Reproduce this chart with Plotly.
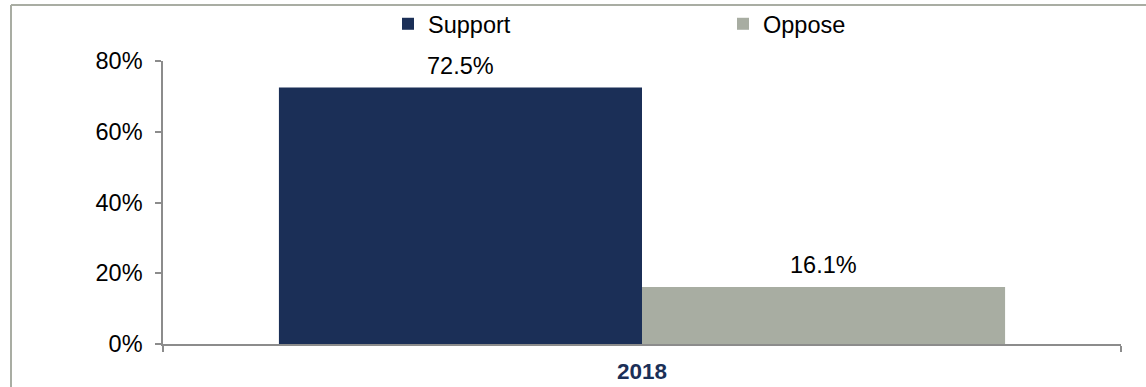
import plotly.graph_objects as go

categories = ["2018"]
series_names = ["Support", "Oppose"]
support_values = [72.5]
oppose_values = [16.1]
y_tick_values = [0, 20, 40, 60, 80]
y_tick_labels = ["0%", "20%", "40%", "60%", "80%"]

NAVY = "#1B2F57"
GRAY = "#A8ADA2"
AXIS = "#8C8C8C"
BORDER = "#A9ADA3"
FONT = "Liberation Sans, Arial, sans-serif"
FS = 23.5

W, H = 1146, 387
ML, MR, MT, MB = 163, 25, 61, 43
BARGAP = 0.242
plot_w = W - ML - MR
plot_h = H - MT - MB
bar_w = plot_w * (1 - BARGAP) / 2

fig = go.Figure()
fig.add_trace(go.Bar(name=series_names[0], x=categories, y=support_values,
                     marker=dict(color=NAVY, line=dict(width=0))))
fig.add_trace(go.Bar(name=series_names[1], x=categories, y=oppose_values,
                     marker=dict(color=GRAY, line=dict(width=0))))

annotations = []
for vals, sign in [(support_values, -1), (oppose_values, 1)]:
    for i, v in enumerate(vals):
        annotations.append(dict(x=i, y=v, xref="x", yref="y", text=f"{v:.1f}%",
                                showarrow=False, xshift=sign * bar_w / 2, yshift=22,
                                yanchor="middle",
                                font=dict(family=FONT, size=FS, color="#000000")))

# frame: only the top and left edges fall inside the picture
fx0 = (11 - ML) / plot_w
fx1 = (W - ML) / plot_w
fy_top = 1 + (MT - 5) / plot_h
fy_bot = -MB / plot_h
frame = [
    dict(type="line", xref="paper", yref="paper", x0=fx0, x1=fx1, y0=fy_top, y1=fy_top,
         line=dict(color=BORDER, width=2), layer="below"),
    dict(type="line", xref="paper", yref="paper", x0=fx0, x1=fx0, y0=fy_bot, y1=fy_top,
         line=dict(color=BORDER, width=2), layer="below"),
]

fig.update_layout(
    width=W, height=H,
    margin=dict(l=ML, r=MR, t=MT, b=MB, pad=0, autoexpand=False),
    paper_bgcolor="white", plot_bgcolor="white",
    barmode="group", bargap=BARGAP, bargroupgap=0,
    font=dict(family=FONT, size=FS, color="#000000"),
    showlegend=True,
    legend=dict(orientation="h", x=(388 - ML) / plot_w, xanchor="left",
                y=1 + (MT - 24) / plot_h, yanchor="middle",
                entrywidth=290, entrywidthmode="pixels",
                bgcolor="rgba(0,0,0,0)",
                font=dict(family=FONT, size=FS, color="#000000"),
                itemwidth=30, tracegroupgap=0),
    xaxis=dict(type="category", range=[-0.5, 0.5], automargin=False, tickangle=0,
               showline=True, linecolor=AXIS, linewidth=1.5,
               ticks="outside", tickson="boundaries", ticklen=6, tickcolor=AXIS, tickwidth=1.5,
               showgrid=False, zeroline=False, ticklabelstandoff=6,
               tickfont=dict(family=FONT, size=22.5, color=NAVY, weight="bold")),
    yaxis=dict(range=[0, 80], tickvals=y_tick_values, ticktext=y_tick_labels, automargin=False,
               showline=True, linecolor=AXIS, linewidth=1.5,
               ticks="outside", ticklen=6, tickcolor=AXIS, tickwidth=1.5,
               showgrid=False, zeroline=False, ticklabelstandoff=8,
               tickfont=dict(family=FONT, size=FS, color="#000000")),
    annotations=annotations,
    shapes=frame,
)

fig.write_html("out.html", config={"displayModeBar": False},
               post_script=("document.documentElement.style.overflow='hidden';"
                            "document.body.style.margin='0px';"
                            "document.body.style.overflow='hidden';"))
